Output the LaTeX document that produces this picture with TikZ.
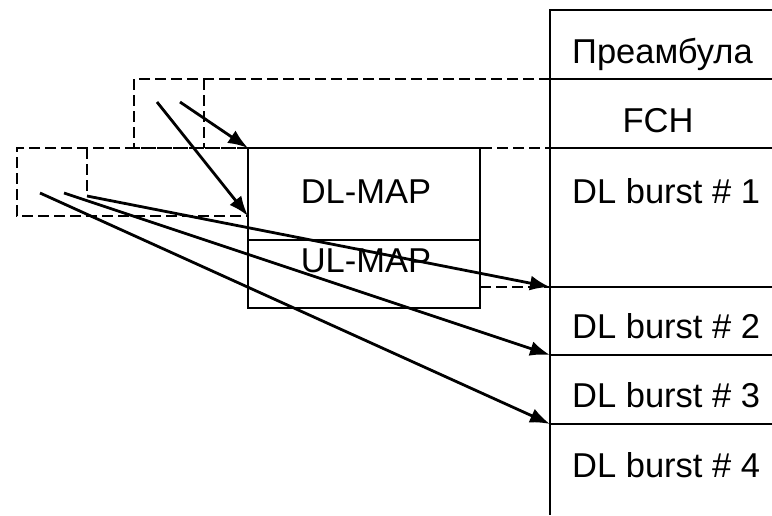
\documentclass[tikz,border=0pt]{standalone}
\usepackage{fontspec}
\setmainfont{Liberation Sans}
\usetikzlibrary{arrows.meta}
\tikzset{
  frame/.style={line width=2.8pt},
  dashframe/.style={line width=2.8pt, dash pattern=on 11pt off 5pt},
  ptr/.style={line width=2.8pt, -{Latex[length=20pt,width=15pt]}},
  lbl/.style={font=\fontsize{34.5}{40}\selectfont, inner sep=0pt}
}

\begin{document}
\begin{tikzpicture}[x=1pt,y=-1pt]
		\useasboundingbox (0,0) rectangle (772,515);

		% frame column on the right
		\draw[frame] (772,10) -- (550,10) -- (550,515);
		\foreach \y in {79,148,287,355,424}
			\draw[frame] (550,\y) -- (772,\y);
		\node[lbl, anchor=base west] (pre) at (572,63) {Преамбула};
		\node[lbl, anchor=base] (fch) at (658,132) {FCH};
		\node[lbl, anchor=base west] (burst1) at (572,203) {DL burst \# 1};
		\node[lbl, anchor=base west] (burst2) at (572,338) {DL burst \# 2};
		\node[lbl, anchor=base west] (burst3) at (572,407) {DL burst \# 3};
		\node[lbl, anchor=base west] (burst4) at (572,477) {DL burst \# 4};

		% MAP messages
		\draw[frame] (248,148) rectangle (480,308);
		\draw[frame] (248,240) -- (480,240);
		\node[lbl, anchor=base] (dlmap) at (366,203) {DL-MAP};
		\node[lbl, anchor=base] (ulmap) at (366,272) {UL-MAP};

		% dashed outlines
		\draw[dashframe] (550,79) -- (134,79) -- (134,148) -- (550,148);
		\draw[dashframe] (204,79) -- (204,148);
		\draw[dashframe] (248,148) -- (17,148) -- (17,216) -- (248,216);
		\draw[dashframe] (87,148) -- (87,196);
		\draw[dashframe] (480,287) -- (550,287);

		% pointers
		\coordinate (fchA) at (180,102);
		\coordinate (fchB) at (157,102);
		\coordinate (dlA) at (87,196);
		\coordinate (dlB) at (64,193);
		\coordinate (dlC) at (40,193);
		\coordinate (mapTop) at (248,148);
		\coordinate (mapMid) at (248,216);
		\coordinate (b2top) at (550,287);
		\coordinate (b3top) at (550,355);
		\coordinate (b4top) at (550,424);
		\draw[ptr] (fchA) -- (mapTop);
		\draw[ptr] (fchB) -- (mapMid);
		\draw[ptr] (dlA) -- (b2top);
		\draw[ptr] (dlB) -- (b3top);
		\draw[ptr] (dlC) -- (b4top);
	\end{tikzpicture}
\end{document}
